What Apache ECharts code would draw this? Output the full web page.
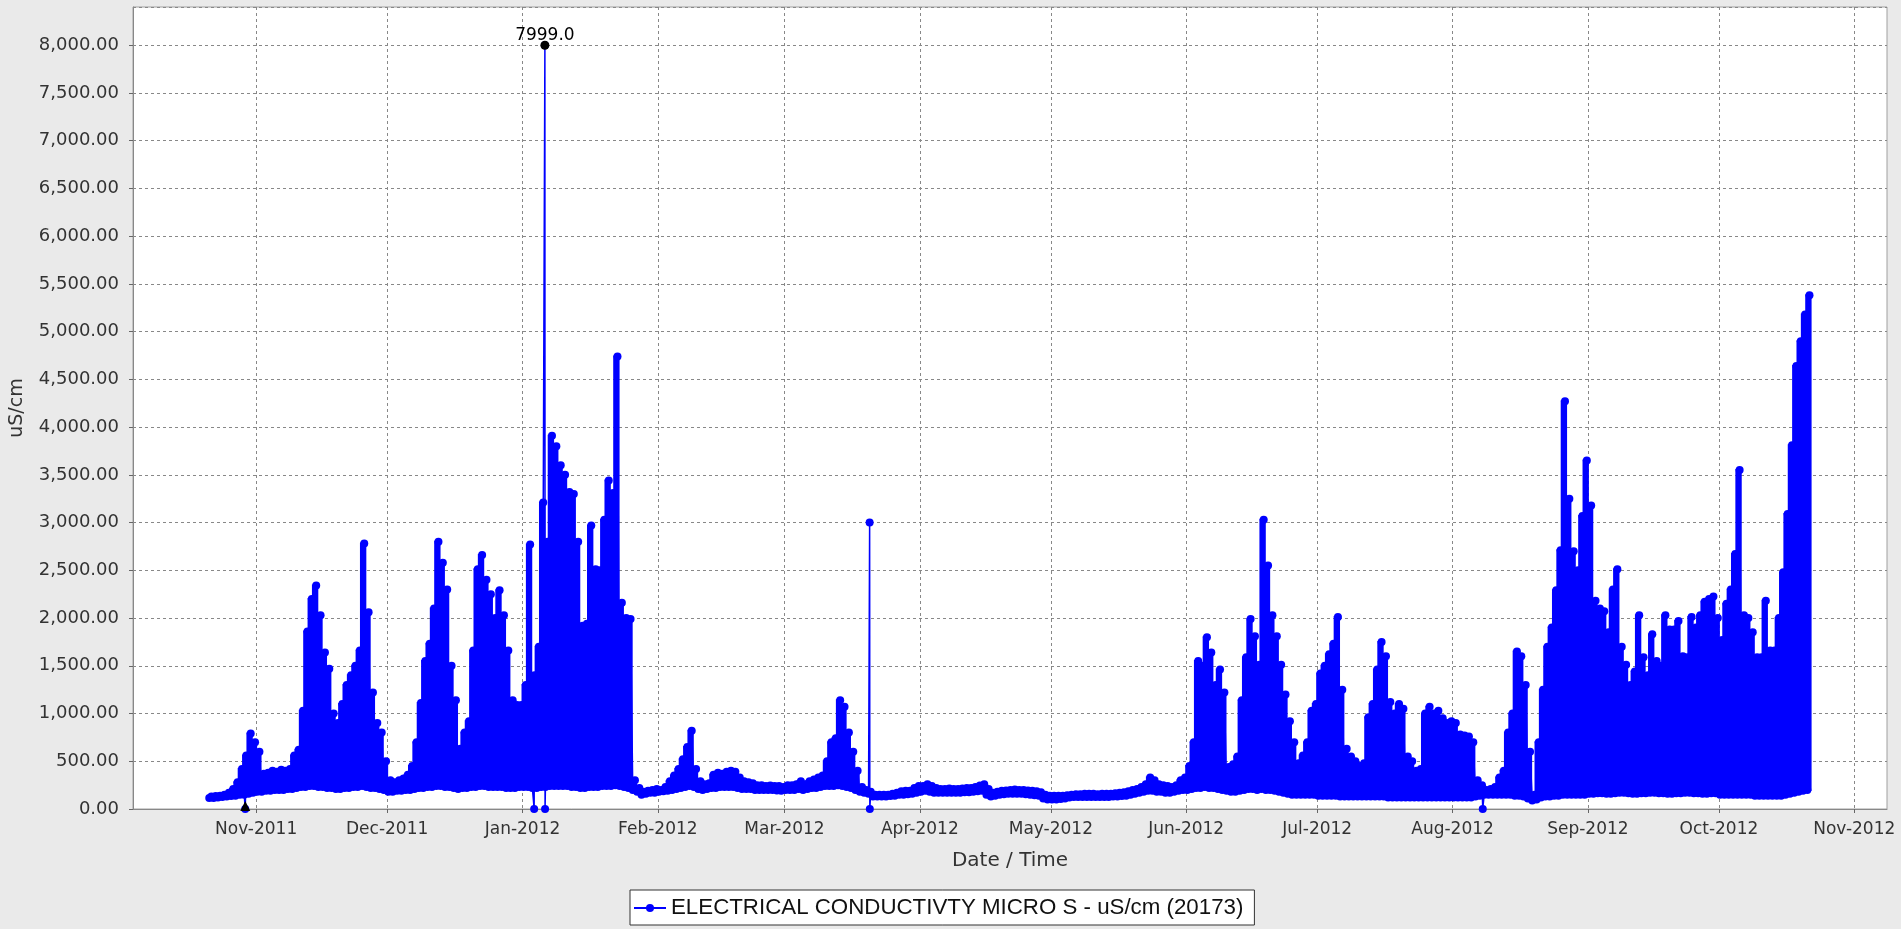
<!DOCTYPE html>
<html>
<head>
<meta charset="utf-8">
<script src="https://cdn.jsdelivr.net/npm/echarts@6/dist/echarts.min.js"></script>
<style>
html,body{margin:0;padding:0;background:#eaeaea;}
#chart{width:1901px;height:929px;}
</style>
</head>
<body>
<div id="chart"></div>
<script>
// ---- Data: daily low / daily high (uS/cm) ----
const lowOct2011  = [115,115,120,125,130,135,140,150,150,160,170]; // from Oct 21
const highOct2011 = [130,135,140,150,170,210,280,420,560,790,700];
const lowNov2011  = [180,180,190,190,200,200,200,210,210,220,230,230,240,240,230,230,220,220,210,210,220,220,230,230,240,230,220,220,210,200];
const highNov2011 = [600,370,380,400,390,410,400,420,560,620,1030,1860,2200,2340,2030,1640,1470,1000,900,1100,1300,1400,1500,1660,2780,2060,1220,900,800,500];
const lowDec2011  = [180,180,190,190,200,200,210,220,220,230,230,240,240,230,230,220,210,220,220,230,230,240,240,230,230,230,230,220,220,220,230];
const highDec2011 = [300,280,300,320,360,450,700,1110,1550,1730,2100,2800,2580,2300,1500,1140,630,800,920,1660,2510,2660,2400,2250,2000,2290,2030,1660,1140,1090,1090];
const lowJan2012  = [230,230,220,220,230,230,240,240,240,240,240,230,230,220,220,230,230,230,240,240,240,250,240,230,220,200,180,150,160,170,170];
const highJan2012 = [1300,2770,1400,1700,3210,2800,3910,3800,3600,3500,3320,3300,2800,1920,1940,2970,2510,2500,3030,3440,3310,4740,2160,2000,1990,300,220,180,190,200,210];
const lowFeb2012  = [180,185,190,200,210,220,230,240,230,210,200,210,220,220,230,230,230,230,220,210,210,210,200,200,200,200,200,195,190];
const highFeb2012 = [200,230,290,350,420,520,650,820,420,290,260,270,360,380,370,390,400,390,330,290,280,270,250,250,240,245,240,240,230];
const lowMar2012  = [200,200,200,210,200,210,220,220,230,240,240,240,250,240,230,220,200,180,170,160,130,130,130,130,135,140,150,150,155,160,170];
const highMar2012 = [250,250,260,290,260,290,310,330,350,500,700,740,1140,1070,800,600,400,230,200,180,150,150,150,150,160,170,185,190,190,220,240];
const lowApr2012  = [180,190,180,170,170,170,170,170,170,170,175,175,180,185,190,150,130,140,150,155,160,160,160,160,155,150,145,140,110,100];
const highApr2012 = [240,260,240,220,210,210,215,210,210,215,220,220,230,245,260,210,170,180,190,195,200,205,200,200,195,190,185,175,150,140];
const lowMay2012  = [100,100,105,110,120,125,125,125,125,125,125,125,125,125,130,130,135,140,150,160,170,180,190,190,180,180,170,170,180,190,200];
const highMay2012 = [140,140,140,145,150,155,155,160,160,160,155,160,160,160,165,170,175,185,200,210,230,260,330,300,260,250,240,230,250,300,330];
const lowJun2012  = [200,210,220,220,230,220,220,210,200,190,180,180,190,200,210,210,200,210,200,200,190,180,170,160,150,150,150,150,150,150];
const highJun2012 = [450,700,1550,1500,1800,1640,1300,1460,1220,440,470,550,1140,1590,1990,1810,1510,3030,2550,2030,1810,1510,1200,920,700,480,560,700,1030,1100];
const lowJul2012  = [140,140,140,140,140,130,130,130,130,130,130,130,130,130,130,130,120,120,120,120,120,120,120,120,120,120,120,120,120,120,120];
const highJul2012 = [1420,1500,1620,1730,2010,1250,630,550,500,450,480,960,1100,1460,1750,1600,1120,1000,1100,1050,550,500,400,420,1000,1070,1000,1030,950,900,920];
const lowAug2012  = [120,120,120,120,120,130,140,150,150,150,150,150,150,150,140,140,130,110,90,100,120,130,130,140,140,150,150,150,150,150,150];
const highAug2012 = [900,780,770,760,700,300,250,200,210,230,330,400,800,1000,1650,1600,1300,600,150,700,1250,1700,1900,2290,2710,4270,3250,2700,2500,3070,3650];
const lowSep2012  = [160,160,165,165,160,160,165,170,170,165,160,160,165,165,170,170,165,165,160,160,165,165,170,170,165,165,160,160,165,165];
const highSep2012 = [3180,2180,2100,2070,1850,2300,2510,1700,1510,1300,1440,2030,1590,1400,1830,1550,1500,2030,1880,1880,1970,1600,1590,2010,1900,2030,2170,2200,2225,2000];
const lowOct2012  = [150,150,150,150,150,150,150,150,140,140,140,140,140,140,140,150,160,170,180,190,200];
const highOct2012 = [1770,2150,2300,2670,3550,2030,2000,1850,1590,1590,2180,1660,1660,2000,2480,3090,3810,4640,4900,5180,5380];

// isolated readings (spikes and drops to zero)
const eventTimes  = ['2011-10-29T12:00','2012-01-03T16:00','2012-01-06T03:00','2012-01-06T04:00','2012-03-20T12:00','2012-03-20T13:00','2012-08-07T22:00'];
const eventValues = [0, 0, 7999, 0, 3000, 0, 0];

// month tick labels on the date axis
const monthTicks = ['2011-11','2011-12','2012-01','2012-02','2012-03','2012-04','2012-05','2012-06','2012-07','2012-08','2012-09','2012-10','2012-11'];
const MONTH_NAMES = ['Jan','Feb','Mar','Apr','May','Jun','Jul','Aug','Sep','Oct','Nov','Dec'];

const seriesName = 'ELECTRICAL CONDUCTIVTY MICRO S - uS/cm (20173)';

// ---- build the series ----
const monthBlocks = [
  [2011, 9, 21, lowOct2011, highOct2011],
  [2011, 10, 1, lowNov2011, highNov2011],
  [2011, 11, 1, lowDec2011, highDec2011],
  [2012, 0, 1, lowJan2012, highJan2012],
  [2012, 1, 1, lowFeb2012, highFeb2012],
  [2012, 2, 1, lowMar2012, highMar2012],
  [2012, 3, 1, lowApr2012, highApr2012],
  [2012, 4, 1, lowMay2012, highMay2012],
  [2012, 5, 1, lowJun2012, highJun2012],
  [2012, 6, 1, lowJul2012, highJul2012],
  [2012, 7, 1, lowAug2012, highAug2012],
  [2012, 8, 1, lowSep2012, highSep2012],
  [2012, 9, 1, lowOct2012, highOct2012]
];
const points = [];
const bandData = [];
monthBlocks.forEach(([y, m, d0, lows, highs]) => {
  lows.forEach((v, i) => {
    points.push([new Date(y, m, d0 + i, 6).getTime(), v]);
    points.push([new Date(y, m, d0 + i, 18).getTime(), highs[i]]);
    bandData.push([new Date(y, m, d0 + i, 0).getTime(), new Date(y, m, d0 + i + 1, 0).getTime(), v, highs[i]]);
  });
});
eventTimes.forEach((t, i) => points.push([new Date(t).getTime(), eventValues[i]]));
points.sort((a, b) => a[0] - b[0]);

const tickValues = monthTicks.map(s => { const [y, m] = s.split('-').map(Number); return new Date(y, m - 1, 1).getTime(); });

const FONT = 'DejaVu Sans';
const BLUE = '#0000ff';
const chart = echarts.init(document.getElementById('chart'), null, {renderer: 'canvas'});
chart.setOption({
  backgroundColor: '#eaeaea',
  animation: false,
  grid: {left: 131, right: 14, top: 7, bottom: 120, show: true, backgroundColor: '#ffffff', borderColor: '#a0a0a0', borderWidth: 1},
  legend: {
    data: [seriesName],
    left: 630, bottom: 4,
    backgroundColor: '#ffffff', borderColor: '#333333', borderWidth: 1, borderRadius: 0,
    padding: [7, 11, 6, 3], itemWidth: 32, itemHeight: 10, itemGap: 6,
    textStyle: {fontFamily: 'Liberation Sans', fontSize: 22.3, color: '#111'}
  },
  xAxis: {
    type: 'value',
    min: new Date(2011, 9, 3, 19).getTime(),
    max: new Date(2012, 10, 8, 12).getTime(),
    name: 'Date / Time', nameLocation: 'middle', nameGap: 42,
    nameTextStyle: {fontFamily: FONT, fontSize: 20, color: '#333'},
    axisLine: {show: true, onZero: false, lineStyle: {color: '#888'}},
    axisTick: {show: true, length: 4, customValues: tickValues, lineStyle: {color: '#666'}},
    axisLabel: {customValues: tickValues, margin: 12, fontFamily: FONT, fontSize: 17, color: '#333',
      formatter: v => { const d = new Date(v); return MONTH_NAMES[d.getMonth()] + '-' + d.getFullYear(); }},
    splitLine: {show: true, lineStyle: {color: '#888', type: [3, 3], width: 1}}
  },
  yAxis: {
    type: 'value', min: 0, max: 8400, interval: 500,
    name: 'uS/cm', nameLocation: 'middle', nameRotate: 90, nameGap: 106,
    nameTextStyle: {fontFamily: FONT, fontSize: 19, color: '#333'},
    axisLine: {show: true, lineStyle: {color: '#888'}},
    axisTick: {show: true, length: 4, lineStyle: {color: '#666'}},
    axisLabel: {showMaxLabel: false, margin: 14, fontFamily: FONT, fontSize: 18, color: '#333',
      formatter: v => v.toFixed(2).replace(/\B(?=(\d{3})+(?!\d))/g, ',')},
    splitLine: {show: true, lineStyle: {color: '#888', type: [3, 3], width: 1}}
  },
  series: [
    {
      name: 'daily-range', type: 'custom', data: bandData, silent: true, clip: true,
      encode: {x: [0, 1], y: [2, 3]},
      renderItem: (params, api) => {
        const p1 = api.coord([api.value(0), api.value(3)]);
        const p2 = api.coord([api.value(1), api.value(2)]);
        return {type: 'rect', shape: {x: p1[0], y: p1[1], width: p2[0] - p1[0], height: p2[1] - p1[1]},
                style: {fill: BLUE, stroke: BLUE, lineWidth: 2}};
      }
    },
    {
      name: seriesName,
      type: 'line',
      data: points,
      symbol: 'circle', symbolSize: 8,
      showSymbol: true,
      itemStyle: {color: BLUE},
      lineStyle: {color: BLUE, width: 1.5},
      emphasis: {disabled: true},
      silent: true,
      z: 3,
      markPoint: {
        silent: true,
        data: [
          {type: 'max', symbol: 'circle', symbolSize: 9, itemStyle: {color: '#000'},
           label: {show: true, position: 'top', distance: -3, color: '#000', fontFamily: FONT, fontSize: 17,
                   formatter: p => Number(p.value).toFixed(1)}},
          {type: 'min', symbol: 'triangle', symbolSize: 10, symbolOffset: [0, -3], itemStyle: {color: '#000'},
           label: {show: false}}
        ]
      }
    }
  ]
});
</script>
</body>
</html>
